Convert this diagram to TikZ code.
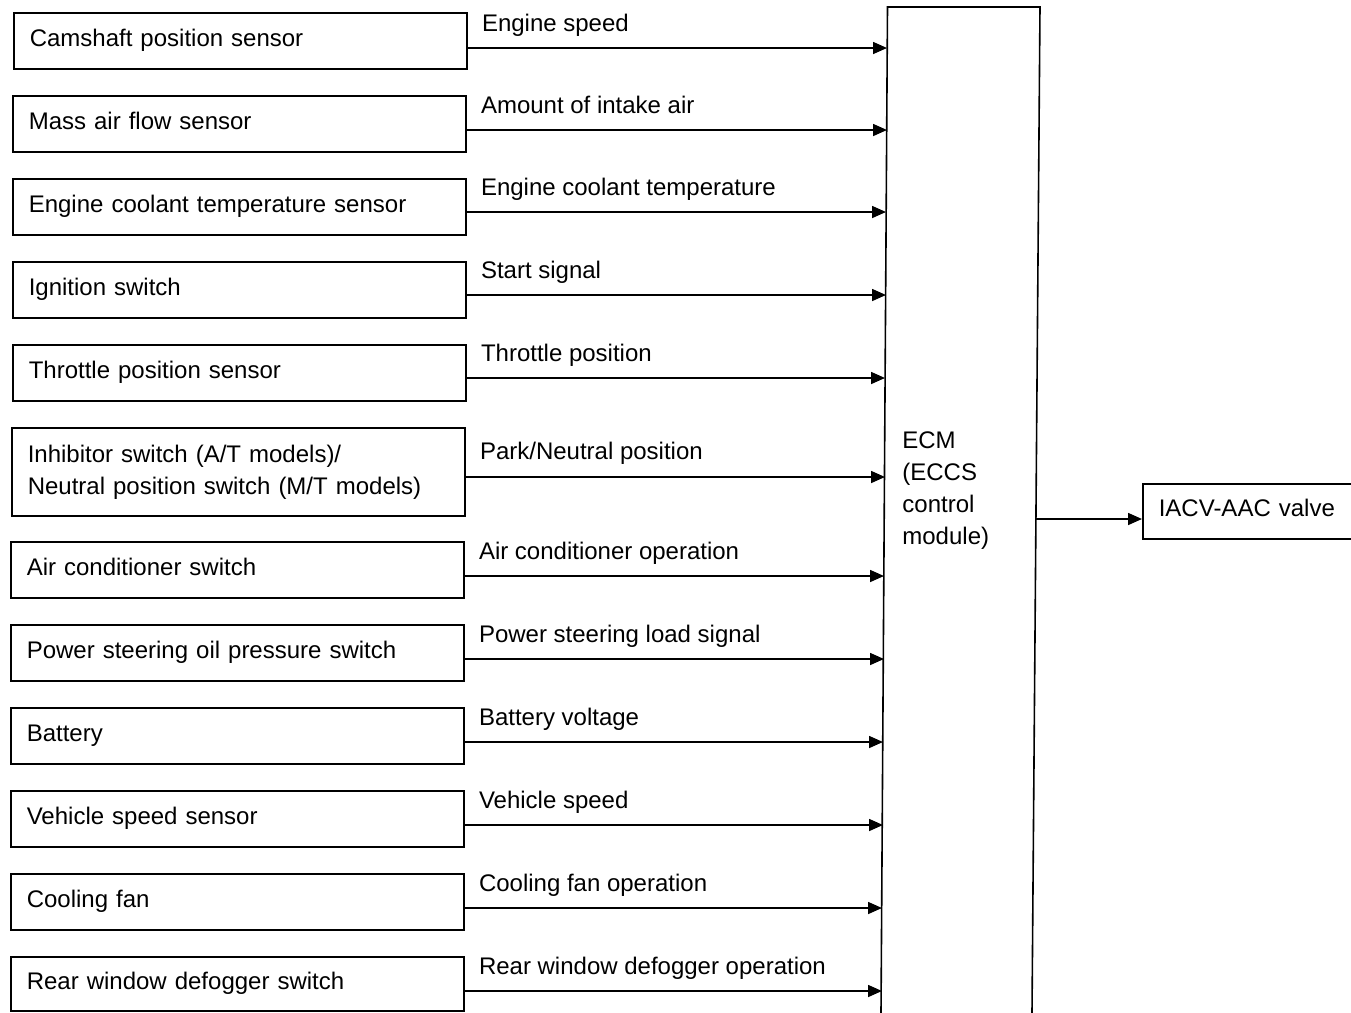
\documentclass[tikz,border=0pt]{standalone}
\usepackage{fontspec}
\setmainfont{Liberation Sans}
\usetikzlibrary{arrows.meta}
\begin{document}
\begin{tikzpicture}[x=0.5pt,y=-0.5pt,
  every node/.style={font=\fontsize{12}{16}\selectfont},
  box/.style={draw, line width=0.8pt, anchor=north west, inner xsep=8pt, inner ysep=0pt,
    text width=210.5pt, align=left, minimum height=28pt},
  onebox/.style={box, text height=9pt, text depth=3.5pt},
  lbl/.style={anchor=base west, inner sep=0pt},
  arr/.style={line width=0.8pt, -{Triangle[length=7pt,width=6pt]}},
  edge/.style={line width=0.8pt}]
\useasboundingbox (0,0) rectangle (1351,1013);
% input boxes
\node[onebox] (b1) at (13,12) {Camshaft position sensor};
\node[onebox] (b2) at (12,95) {Mass air flow sensor};
\node[onebox] (b3) at (12,178) {Engine coolant temperature sensor};
\node[onebox] (b4) at (12,261) {Ignition switch};
\node[onebox] (b5) at (12,344) {Throttle position sensor};
\node[box, minimum height=44pt] (b6) at (11,427) {Inhibitor switch (A/T models)/\\Neutral position switch (M/T models)};
\node[onebox] (b7) at (10,541) {Air conditioner switch};
\node[onebox] (b8) at (10,624) {Power steering oil pressure switch};
\node[onebox] (b9) at (10,707) {Battery};
\node[onebox] (b10) at (10,790) {Vehicle speed sensor};
\node[onebox] (b11) at (10,873) {Cooling fan};
\node[onebox, minimum height=27pt] (b12) at (10,956) {Rear window defogger switch};
% ECM box (open at the bottom)
\draw[edge] (881,1013) -- (887.5,7) -- (1040,7) -- (1032,1013);
\node[anchor=north west, inner sep=0pt, align=left] (ecm) at (902,431) {ECM\\(ECCS\\control\\module)};
% arrow tips on the ECM left edge
\coordinate (t1) at (887,48);
\coordinate (t2) at (887,130);
\coordinate (t3) at (886,212);
\coordinate (t4) at (886,295);
\coordinate (t5) at (885,378);
\coordinate (t6) at (885,477);
\coordinate (t7) at (884,576);
\coordinate (t8) at (884,659);
\coordinate (t9) at (883,742);
\coordinate (t10) at (883,825);
\coordinate (t11) at (882,908);
\coordinate (t12) at (882,991);
\foreach \i in {1,...,12} {\draw[arr] (b\i.east |- t\i) -- (t\i);}
% signal labels
\tikzset{lpos/.style={xshift=7pt,yshift=8.25pt}}
\node[lbl] (l1) at ([lpos]b1.east |- t1) {Engine speed};
\node[lbl] (l2) at ([lpos]b2.east |- t2) {Amount of intake air};
\node[lbl] (l3) at ([lpos]b3.east |- t3) {Engine coolant temperature};
\node[lbl] (l4) at ([lpos]b4.east |- t4) {Start signal};
\node[lbl] (l5) at ([lpos]b5.east |- t5) {Throttle position};
\node[lbl] (l6) at ([lpos,yshift=0.5pt]b6.east |- t6) {Park/Neutral position};
\node[lbl] (l7) at ([lpos]b7.east |- t7) {Air conditioner operation};
\node[lbl] (l8) at ([lpos]b8.east |- t8) {Power steering load signal};
\node[lbl] (l9) at ([lpos]b9.east |- t9) {Battery voltage};
\node[lbl] (l10) at ([lpos]b10.east |- t10) {Vehicle speed};
\node[lbl] (l11) at ([lpos]b11.east |- t11) {Cooling fan operation};
\node[lbl] (l12) at ([lpos]b12.east |- t12) {Rear window defogger operation};
% output
\node[draw, line width=0.8pt, anchor=north west, minimum width=110pt, minimum height=27.5pt,
  text width=94pt, inner xsep=8pt, inner ysep=0pt, align=left, text height=9pt, text depth=3.5pt] (iacv) at (1142,483) {IACV-AAC valve};
\coordinate (ecmout) at (1036,519);
\draw[arr] (ecmout) -- (iacv.west |- ecmout);
\end{tikzpicture}
\end{document}
